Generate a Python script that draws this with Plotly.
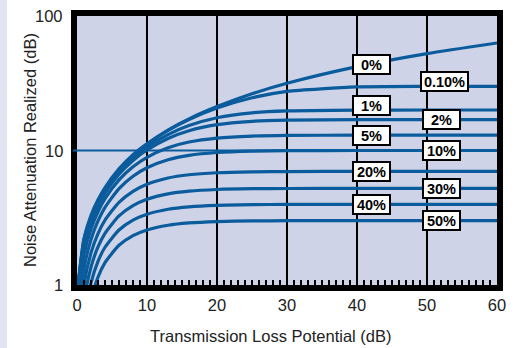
import math
import plotly.graph_objects as go

# ---- data ----
tl = [0, 1, 2, 3, 4, 6, 8, 10, 13, 16, 20, 25, 30, 40, 50, 60]
leak_labels = ["0%", "0.10%", "1%", "2%", "5%", "10%", "20%", "30%", "40%", "50%"]
nr_0 = [0.85, 2.2, 3.3, 4.3, 5.3, 7.3, 9.3, 11.2, 14.2, 17.2, 21.2, 26.4, 31.6, 42, 52.5, 63]
nr_0_1 = [0.85, 2.197, 3.195, 4.193, 5.19, 7.18, 9.17, 11.15, 14.09, 16.98, 20.67, 24.69, 27.55, 29.68, 29.97, 30.0]
nr_1 = [0.85, 2.073, 3.055, 4.032, 5.004, 6.925, 8.80, 10.61, 13.14, 15.33, 17.52, 19.06, 19.68, 19.97, 20.0, 20.0]
nr_2 = [0.80, 1.949, 2.914, 3.871, 4.816, 6.665, 8.435, 10.09, 12.29, 14.03, 15.56, 16.49, 16.82, 16.97, 16.99, 16.99]
nr_5 = [0.756, 1.690, 2.608, 3.506, 4.382, 6.047, 7.564, 8.893, 10.48, 11.56, 12.37, 12.80, 12.94, 13.00, 13.01, 13.01]
nr_10 = [0.447, 1.324, 2.175, 2.993, 3.774, 5.207, 6.437, 7.442, 8.533, 9.203, 9.665, 9.891, 9.965, 9.996, 10.0, 10.0]
nr_20 = [0.238, 1.007, 1.732, 2.409, 3.034, 4.117, 4.971, 5.612, 6.245, 6.601, 6.831, 6.939, 6.974, 6.988, 6.99, 6.99]
nr_30 = [0.07, 0.740, 1.357, 1.919, 2.424, 3.262, 3.889, 4.337, 4.759, 4.987, 5.131, 5.198, 5.219, 5.228, 5.229, 5.229]
nr_40 = [0.05, 0.517, 1.038, 1.501, 1.908, 2.563, 3.034, 3.359, 3.658, 3.815, 3.913, 3.958, 3.973, 3.979, 3.979, 3.979]
nr_50 = [0.03, 0.336, 0.767, 1.143, 1.467, 1.975, 2.329, 2.568, 2.783, 2.895, 2.964, 2.996, 3.006, 3.010, 3.010, 3.010]
series = [nr_0, nr_0_1, nr_1, nr_2, nr_5, nr_10, nr_20, nr_30, nr_40, nr_50]

x_ticks = [0, 10, 20, 30, 40, 50, 60]
y_ticks = [1, 10, 100]
y_ticktext = ["1", "10", "100"]
reference_level = 10

# label placement (style)
label_x = [42, 52.5, 42, 52, 42, 52, 42, 52, 42, 52]
label_src = [40, 50, 40, 50, 40, 50, 40, 50, 40, 50]
label_yshift = [2, 5, 5, 0, 0, 0, 0, 0, 0, 0]
label_w = [33, 43, 33, 33, 33, 33, 33, 33, 33, 33]

BLUE = "#0a5c9c"
FONT = "Liberation Sans, Arial, sans-serif"

fig = go.Figure()
for name, ys in zip(leak_labels, series):
    fig.add_trace(go.Scatter(x=tl, y=ys, mode="lines", name=name,
                             line=dict(color=BLUE, width=3.2, shape="spline", smoothing=0.6),
                             showlegend=False, hoverinfo="skip"))

# reference line at 10 dB
fig.add_shape(type="line", xref="paper", yref="y", x0=-0.01, x1=1,
              y0=reference_level, y1=reference_level,
              line=dict(color=BLUE, width=2), layer="above")

for i, lab in enumerate(leak_labels):
    yv = series[i][tl.index(label_src[i])]
    fig.add_annotation(x=label_x[i], y=math.log10(yv), text="<b>" + lab + "</b>",
                       showarrow=False, bgcolor="white", bordercolor="black",
                       borderwidth=2, borderpad=1, width=label_w[i], height=15,
                       yshift=label_yshift[i],
                       font=dict(family=FONT, size=14.5, color="black"))

# y tick labels placed close to the frame
for v, t in zip(y_ticks, y_ticktext):
    fig.add_annotation(text=t, xref="paper", yref="y", x=0, y=math.log10(v),
                       xanchor="right", yanchor="middle", xshift=-12, showarrow=False,
                       font=dict(family=FONT, size=16.5, color="#222"))

fig.add_annotation(text="Transmission Loss Potential (dB)", xref="paper", yref="paper",
                   x=(270 - 77) / 420, y=(285 - 336) / 269, xanchor="center", yanchor="middle",
                   showarrow=False, font=dict(family=FONT, size=16.5, color="#222"))
fig.add_annotation(text="Noise Attenuation Realized (dB)", xref="paper", yref="paper",
                   x=(30 - 77) / 420, y=(285 - 150) / 269, xanchor="center", yanchor="middle",
                   textangle=-90, showarrow=False, font=dict(family=FONT, size=16.5, color="#222"))

fig.update_xaxes(range=[0, 60], tickvals=x_ticks, ticks="inside", ticklen=5, tickwidth=2,
                 tickcolor="black", automargin=False,
                 minor=dict(dtick=1, ticks="inside", ticklen=5, tickwidth=2, tickcolor="black",
                            showgrid=False),
                 showgrid=True, gridcolor="black", gridwidth=2,
                 showline=True, linecolor="black", linewidth=6, mirror=True,
                 zeroline=False, tickfont=dict(family=FONT, size=16.5, color="#222"))
fig.update_yaxes(type="log", range=[0, 2], tickvals=y_ticks, showticklabels=False,
                 ticks="", showgrid=False, automargin=False,
                 showline=True, linecolor="black", linewidth=6, mirror=True,
                 zeroline=False)

fig.update_layout(width=509, height=340, margin=dict(l=69, r=20, t=8, b=63),
                  plot_bgcolor="#ced3e8", paper_bgcolor="white")

fig.write_html("out.html", post_script=(
    "document.body.style.background="
    "'linear-gradient(to right,#e2e4f1 0px,#e2e4f1 7px,#ffffff 7px)';"
    "document.body.style.overflow='hidden';"))
